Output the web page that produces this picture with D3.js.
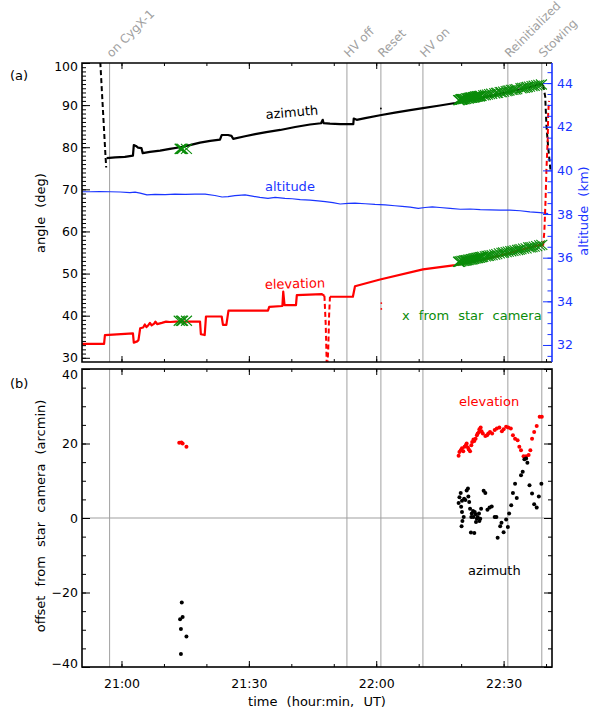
<!DOCTYPE html>
<html>
<head>
<meta charset="utf-8">
<script src="https://cdn.jsdelivr.net/npm/d3@7"></script>
<style>
  body { margin: 0; background: #fff; }
  svg text { font-family: "DejaVu Sans", sans-serif; }
</style>
</head>
<body>
<div id="chart"></div>
<script>
/*global d3*/

// all times are minutes after 20:00 UT

// azimuth (deg): slew onto source (dashed), tracking (solid), stowing (dashed)
var azSlewTime = [54.8, 56.2, 56.4];
var azSlewVal  = [104, 78.5, 75.2];
var azTime = [56.5, 58.5, 60.8, 62.7, 62.9, 63.4, 63.9, 64.7, 65.0, 66.7, 69.1, 71.4, 73.8, 76.1,
              78.5, 80.9, 83.2, 83.6, 85.1, 85.9, 86.3, 89.1, 91.5, 94.1, 97.4, 100.9, 104.4,
              107.0, 107.4, 107.6, 109.1, 111.5, 114.6, 114.7, 115.4, 117.4, 120.9, 124.4, 128.0,
              131.0, 135.0, 138.6, 142.1, 146.8, 151.5, 156.3, 158.6, 159.3];
var azVal  = [77.4, 77.6, 77.7, 78.0, 80.5, 80.3, 79.9, 79.8, 78.6, 78.9, 79.2, 79.6, 80.0, 80.5,
              81.1, 81.5, 81.8, 82.9, 82.9, 82.7, 82.0, 82.6, 83.1, 83.6, 84.1, 84.8, 85.4,
              85.7, 86.5, 85.7, 85.6, 85.5, 85.5, 86.8, 86.5, 86.9, 87.6, 88.2, 88.8,
              89.3, 89.9, 90.5, 91.2, 92.2, 93.2, 94.3, 95.0, 94.8];
var azStowTime = [159.3, 159.8, 160.1, 160.5, 161.1];
var azStowVal  = [94.8, 92, 85, 80, 74];
var azStrayTime = [121.1];
var azStrayVal  = [89.2];

// elevation (deg)
var elTime = [50.7, 55.9, 56.1, 62.7, 62.9, 63.7, 64.0, 64.4, 65.1, 65.5, 65.9, 66.2, 66.7, 67.1,
              67.7, 68.0, 68.4, 69.5, 70.5, 71.4, 72.8, 78.5, 78.7, 79.6, 79.9, 83.6, 83.9, 84.7,
              85.2, 94.5, 94.8, 97.9, 98.1, 98.4, 101.1, 101.3, 107.2, 107.8];
var elVal  = [33.3, 33.3, 35.4, 35.8, 33.6, 33.9, 34.2, 37.0, 37.2, 37.9, 37.3, 37.6, 38.3, 37.7,
              38.1, 38.6, 38.0, 38.3, 38.6, 38.5, 38.6, 38.6, 35.6, 35.4, 39.8, 39.8, 37.8, 37.8,
              41.2, 41.2, 42.1, 42.3, 45.7, 42.5, 42.5, 44.9, 45.1, 44.7];
var elDipTime = [107.8, 108.1, 108.3, 108.4, 108.7, 108.9, 109.1];
var elDipVal  = [44.7, 38, 30, 26, 32, 40, 44.5];
var elTime2 = [109.1, 114.5, 115.0, 120.9, 131.0, 138.6, 144.5, 149.2, 153.9, 158.6, 159.3];
var elVal2  = [44.5, 44.5, 47.0, 48.6, 51.0, 52.0, 53.2, 54.3, 55.6, 56.8, 56.6];
var elStowTime = [159.3, 159.6, 159.9, 160.1, 160.4, 160.5, 160.7];
var elStowVal  = [56.6, 60, 68, 75, 82, 88, 91];
var elStrayTime = [121.2, 121.2];
var elStrayVal  = [43.0, 41.6];

// altitude (km)
var altTime = [50.7, 52.6, 54.9, 57.3, 59.7, 62.0, 63.2, 64.4, 66.0, 67.9, 70.3, 72.6, 75.0, 77.3,
               79.7, 82.0, 83.7, 85.1, 86.7, 89.1, 90.8, 92.6, 94.5, 96.2, 98.5, 100.2, 102.1,
               104.4, 106.3, 108.0, 109.8, 111.5, 113.4, 115.0, 117.4, 119.7, 122.1, 124.4, 126.1,
               128.0, 129.9, 131.5, 133.2, 135.0, 137.4, 139.8, 142.1, 144.5, 146.8, 149.2, 151.5,
               153.9, 156.2, 158.6, 160.5];
var altVal  = [39.02, 39.02, 39.03, 39.02, 39.01, 38.98, 39.00, 38.96, 38.88, 38.90, 38.89, 38.91,
               38.90, 38.91, 38.91, 38.85, 38.78, 38.80, 38.84, 38.88, 38.82, 38.76, 38.72, 38.76,
               38.72, 38.70, 38.66, 38.64, 38.60, 38.57, 38.52, 38.46, 38.49, 38.50, 38.47, 38.44,
               38.42, 38.38, 38.35, 38.32, 38.26, 38.30, 38.33, 38.30, 38.26, 38.22, 38.23, 38.20,
               38.19, 38.18, 38.18, 38.15, 38.10, 38.06, 38.02];

// events
var eventTime = [57.2, 113.1, 121.1, 131.0, 151.0, 159.0];
var eventName = ["on CygX-1", "HV off", "Reset", "HV on", "Reinitialized", "Stowing"];

// star camera solutions: azimuth offsets (arcmin) and star camera azimuth (deg)
var azOffTime = [73.8, 74.0, 74.0, 74.2, 74.4, 75.3,
                 139.4, 139.6, 139.9, 140.0, 140.1, 140.2, 140.2, 140.3, 140.6, 140.7, 141.0, 141.3,
                 141.6, 141.7, 141.9, 142.1, 142.3, 142.4, 142.5, 142.8, 142.9, 143.1, 143.2, 143.4,
                 143.5, 143.7, 143.9, 144.2, 144.3, 144.5, 144.7, 145.3, 145.7, 146.2, 146.7, 147.2,
                 147.9, 148.3, 148.6, 149.2, 149.5, 150.0, 150.6, 151.0, 151.3, 151.8, 152.2, 152.7,
                 153.1, 154.1, 154.5, 154.9, 155.3, 155.6, 156.1, 156.7, 157.2, 157.8, 158.3, 158.9];
var azOff = [-27.2, -29.8, -36.5, -22.7, -26.6, -31.8,
             4.0, 5.6, 6.7, 3.0, -2.2, 4.6, 1.6, -0.8, 0.3, 5.2, 4.8, 7.4,
             7.9, 5.8, 4.3, 2.5, -3.9, 0.3, 1.2, 1.9, 0.3, -4.0, 1.6, 1.0,
             -1.1, -0.2, 0.3, 1.2, -0.8, -0.2, 2.5, 7.3, 6.7, 2.2, 2.8, 3.1,
             0.3, 0.3, -5.3, -2.2, -1.3, -3.8, -0.4, -2.4, 1.2, 3.4, 6.7, 9.2,
             5.4, 11.5, 12.4, 15.8, 16.0, 14.8, 8.8, 6.6, 3.7, 2.8, 5.8, 9.2];
var scAz = [79.6, 79.6, 79.6, 79.6, 79.6, 79.6,
            91.2, 91.2, 91.3, 91.3, 91.3, 91.4, 91.4, 91.4, 91.4, 91.4, 91.5, 91.6,
            91.6, 91.6, 91.7, 91.7, 91.8, 91.8, 91.8, 91.8, 91.9, 91.9, 91.9, 92.0,
            92.0, 92.0, 92.1, 92.1, 92.1, 92.2, 92.2, 92.3, 92.4, 92.5, 92.6, 92.7,
            92.8, 92.9, 92.9, 93.1, 93.1, 93.2, 93.3, 93.4, 93.5, 93.6, 93.6, 93.7,
            93.8, 94.0, 94.1, 94.1, 94.2, 94.3, 94.4, 94.5, 94.6, 94.7, 94.8, 94.9];

// elevation offsets (arcmin) and star camera elevation (deg)
var elOffTime = [73.6, 74.1, 74.4, 75.3,
                 139.4, 139.6, 139.9, 140.2, 140.5, 140.8, 141.1, 141.3, 141.6, 141.8, 142.1, 142.4,
                 142.6, 142.9, 143.1, 143.4, 143.7, 143.9, 144.2, 144.3, 144.6, 144.8, 145.1, 145.7,
                 146.1, 146.4, 146.8, 147.3, 147.9, 148.4, 149.0, 149.6, 150.0, 150.6, 151.1, 151.7,
                 152.2, 152.7, 153.3, 153.7, 154.1, 154.7, 155.3, 155.9, 156.3, 156.7, 157.2, 157.8,
                 158.5, 159.0];
var elOff = [20.2, 20.3, 20.0, 19.1,
             16.7, 17.7, 18.2, 18.7, 17.9, 19.1, 19.5, 20.0, 18.9, 18.4, 17.9, 19.5,
             20.4, 21.1, 20.7, 21.3, 22.2, 22.7, 23.1, 23.8, 24.3, 23.3, 22.7, 22.0,
             22.2, 22.7, 23.1, 22.7, 23.6, 24.0, 24.3, 23.3, 23.8, 24.5, 24.3, 24.0,
             22.2, 21.3, 20.9, 19.1, 18.2, 16.6, 16.6, 16.9, 18.2, 21.3, 23.1, 24.7,
             27.2, 27.2];
var scEl = [38.8, 38.8, 38.8, 38.8,
            52.8, 52.8, 52.9, 53.0, 53.0, 53.1, 53.1, 53.2, 53.2, 53.3, 53.3, 53.4,
            53.4, 53.5, 53.6, 53.6, 53.7, 53.7, 53.8, 53.8, 53.9, 53.9, 54.0, 54.1,
            54.2, 54.2, 54.3, 54.4, 54.5, 54.6, 54.8, 54.9, 55.0, 55.1, 55.2, 55.3,
            55.4, 55.5, 55.6, 55.7, 55.8, 55.9, 56.0, 56.2, 56.2, 56.3, 56.4, 56.5,
            56.7, 56.8];

// tick values
var timeMajor = [60, 90, 120, 150];
var timeMinor = [60, 70, 80, 90, 100, 110, 120, 130, 140, 150, 160];
var angleMajor = [30, 40, 50, 60, 70, 80, 90, 100];
var altMajor = [32, 34, 36, 38, 40, 42, 44];
var offMajor = [-40, -20, 0, 20, 40];

var BLACK = "#000", RED = "#ff0000", BLUE = "#1a35ff", GREEN = "#0a8c0a", GRAY = "#a0a0a0";

var left = 82, right = 552;
var aTop = 63, aBot = 362, bTop = 369, bBot = 667;

var svg = d3.select("#chart")
  .append("svg")
  .attr("width", 600)
  .attr("height", 711);

var x = d3.scaleLinear().domain([50.7, 161.4]).range([left, right]);
var yA = d3.scaleLinear().domain([29, 100]).range([aBot, aTop]);
var yAlt = d3.scaleLinear().domain([31.22, 44.92]).range([aBot, aTop]);
var yB = d3.scaleLinear().domain([-40, 40]).range([bBot, bTop]);

var fmtTime = function(m) {
  var h = 20 + Math.floor(m / 60), mm = m % 60;
  return h + ":" + (mm < 10 ? "0" : "") + mm;
};

function range(a, b, s) { return d3.range(a, b + s / 2, s); }

svg.append("clipPath").attr("id", "clipA").append("rect")
  .attr("x", left).attr("y", aTop).attr("width", right - left).attr("height", aBot - aTop);
svg.append("clipPath").attr("id", "clipB").append("rect")
  .attr("x", left).attr("y", bTop).attr("width", right - left).attr("height", bBot - bTop);

// event lines
[[aTop, aBot], [bTop, bBot]].forEach(function(p) {
  svg.append("g").selectAll("line").data(eventTime).enter().append("line")
    .attr("x1", d => x(d)).attr("x2", d => x(d))
    .attr("y1", p[0]).attr("y2", p[1])
    .attr("stroke", GRAY).attr("stroke-width", 1);
});
svg.append("line")
  .attr("x1", left).attr("x2", right).attr("y1", yB(0)).attr("y2", yB(0))
  .attr("stroke", GRAY).attr("stroke-width", 1.2);

// event labels
svg.append("g").selectAll("text").data(eventTime).enter().append("text")
  .attr("transform", d => "translate(" + (x(d) + 2) + "," + (aTop - 5) + ") rotate(-45)")
  .attr("font-size", 12).attr("fill", GRAY)
  .text((d, i) => eventName[i]);

// panel a curves
var gA = svg.append("g").attr("clip-path", "url(#clipA)");

function drawLine(g, ts, vs, y, color, w, dash) {
  g.append("path")
    .datum(d3.range(ts.length))
    .attr("fill", "none")
    .attr("stroke", color)
    .attr("stroke-width", w)
    .attr("stroke-dasharray", dash || null)
    .attr("stroke-linejoin", "round")
    .attr("d", d3.line().x(i => x(ts[i])).y(i => y(vs[i])));
}

drawLine(gA, altTime, altVal, yAlt, BLUE, 1.2);
drawLine(gA, azSlewTime, azSlewVal, yA, BLACK, 2, "5,3");
drawLine(gA, azTime, azVal, yA, BLACK, 2.2);
drawLine(gA, azStowTime, azStowVal, yA, BLACK, 2, "5,3");
drawLine(gA, elTime, elVal, yA, RED, 2.2);
drawLine(gA, elDipTime, elDipVal, yA, RED, 2, "5,3");
drawLine(gA, elTime2, elVal2, yA, RED, 2.2);
drawLine(gA, elStowTime, elStowVal, yA, RED, 2, "5,3");

gA.selectAll(".saz").data(azStrayTime).enter().append("circle")
  .attr("cx", d => x(d)).attr("cy", (d, i) => yA(azStrayVal[i])).attr("r", 0.9).attr("fill", BLACK);
gA.selectAll(".sel").data(elStrayTime).enter().append("circle")
  .attr("cx", d => x(d)).attr("cy", (d, i) => yA(elStrayVal[i])).attr("r", 0.9).attr("fill", RED);

// star camera crosses
var cross = "M-5.5,-5L5.5,5M-5.5,5L5.5,-5";
gA.append("g").selectAll("path").data(azOffTime).enter().append("path")
  .attr("d", cross)
  .attr("transform", (d, i) => "translate(" + x(d) + "," + yA(scAz[i]) + ")")
  .attr("stroke", GREEN).attr("stroke-width", 1.1).attr("fill", "none");
gA.append("g").selectAll("path").data(elOffTime).enter().append("path")
  .attr("d", cross)
  .attr("transform", (d, i) => "translate(" + x(d) + "," + yA(scEl[i]) + ")")
  .attr("stroke", GREEN).attr("stroke-width", 1.1).attr("fill", "none");

// panel b points
var gB = svg.append("g").attr("clip-path", "url(#clipB)");
gB.append("g").selectAll("circle").data(elOffTime).enter().append("circle")
  .attr("cx", d => x(d)).attr("cy", (d, i) => yB(elOff[i])).attr("r", 2).attr("fill", RED);
gB.append("g").selectAll("circle").data(azOffTime).enter().append("circle")
  .attr("cx", d => x(d)).attr("cy", (d, i) => yB(azOff[i])).attr("r", 2).attr("fill", BLACK);

// axes
function styleAxis(g, color, fs) {
  g.attr("font-family", "DejaVu Sans, sans-serif").attr("font-size", fs || 12.5);
  g.select(".domain").remove();
  g.selectAll("line").attr("stroke", color);
  g.selectAll("text").attr("fill", color);
}

function addAxis(axis, tx, ty, color, fs) {
  var g = svg.append("g").attr("transform", "translate(" + tx + "," + ty + ")").call(axis);
  styleAxis(g, color, fs);
  return g;
}

[[aTop, aBot, false], [bTop, bBot, true]].forEach(function(p) {
  // bottom
  addAxis(d3.axisBottom(x).tickValues(timeMinor).tickSize(-3).tickFormat(""), 0, p[1], BLACK);
  addAxis(d3.axisBottom(x).tickValues(timeMajor).tickSize(-6).tickPadding(12)
    .tickFormat(p[2] ? fmtTime : ""), 0, p[1], BLACK);
  // top
  addAxis(d3.axisTop(x).tickValues(timeMinor).tickSize(-3).tickFormat(""), 0, p[0], BLACK);
  addAxis(d3.axisTop(x).tickValues(timeMajor).tickSize(-6).tickFormat(""), 0, p[0], BLACK);
});

// panel a left (angle)
addAxis(d3.axisLeft(yA).tickValues(range(30, 100, 1)).tickSize(-4).tickFormat(""), left, 0, BLACK);
addAxis(d3.axisLeft(yA).tickValues(angleMajor).tickSize(-8).tickPadding(4), left, 0, BLACK)
  .selectAll("text").filter(d => d === 100).attr("y", 3);
// panel a right (altitude)
addAxis(d3.axisRight(yAlt).tickValues(range(31.5, 44.5, 0.5)).tickSize(-4.5).tickFormat(""), right, 0, BLUE);
addAxis(d3.axisRight(yAlt).tickValues(altMajor).tickSize(-9).tickPadding(5), right, 0, BLUE);
// panel b left/right
addAxis(d3.axisLeft(yB).tickValues(range(-40, 40, 5)).tickSize(-4).tickFormat(""), left, 0, BLACK);
var offAx = addAxis(d3.axisLeft(yB).tickValues(offMajor).tickSize(-8).tickPadding(4), left, 0, BLACK);
offAx.selectAll("text").filter(d => d === 40).attr("y", 5);
offAx.selectAll("text").filter(d => d === -40).attr("y", -4);
addAxis(d3.axisRight(yB).tickValues(range(-40, 40, 5)).tickSize(-4).tickFormat(""), right, 0, BLACK);
addAxis(d3.axisRight(yB).tickValues(offMajor).tickSize(-8).tickFormat(""), right, 0, BLACK);

// frames
svg.append("path")
  .attr("d", "M" + right + "," + aTop + "H" + left + "V" + aBot + "H" + right)
  .attr("fill", "none").attr("stroke", BLACK).attr("stroke-width", 1.6);
svg.append("line")
  .attr("x1", right).attr("x2", right).attr("y1", aTop).attr("y2", aBot)
  .attr("stroke", BLUE).attr("stroke-width", 1.6);
svg.append("rect")
  .attr("x", left).attr("y", bTop).attr("width", right - left).attr("height", bBot - bTop)
  .attr("fill", "none").attr("stroke", BLACK).attr("stroke-width", 1.6);

// titles and annotations
function label(txt, tx, ty, color, rot, anchor) {
  svg.append("text")
    .attr("transform", "translate(" + tx + "," + ty + ")" + (rot ? " rotate(" + rot + ")" : ""))
    .attr("text-anchor", anchor || "start")
    .attr("font-size", 13)
    .attr("word-spacing", 5)
    .attr("fill", color)
    .text(txt);
}

label("(a)", 10, 80, BLACK);
label("(b)", 10, 388, BLACK);
label("angle (deg)", 45, 213, BLACK, -90, "middle");
label("altitude (km)", 588, 211, BLUE, -90, "middle");
label("offset from star camera (arcmin)", 45, 516, BLACK, -90, "middle");
label("time (hour:min, UT)", 317, 706, BLACK, 0, "middle");

label("azimuth", 266, 119, BLACK, -5);
label("altitude", 265, 191, BLUE);
label("elevation", 265, 289, RED, -1.5);
label("x from star camera", 402, 320, GREEN);
label("elevation", 459, 406, RED);
label("azimuth", 468, 575, BLACK);
</script>
</body>
</html>
